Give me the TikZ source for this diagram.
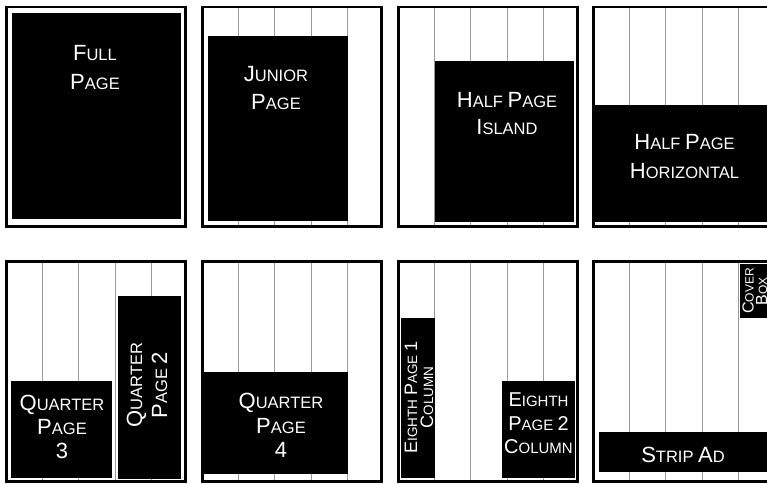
\documentclass[tikz,border=0pt]{standalone}
\usepackage{fontspec}
\setmainfont{Liberation Sans}
\newcommand\bg[1]{{\fontsize{\bgsize}{\bgsize}\selectfont #1}}
\def\bgsize{22}
\begin{document}
\begin{tikzpicture}[x=1pt,y=-1pt,
 frame/.style={draw=black,line width=2.5pt},
 colline/.style={draw=black!40,line width=1pt},
 adbox/.style={fill=black},
 lbl/.style={text=white,inner sep=0pt,anchor=base,font={\def\bgsize{22}\fontsize{16.5}{18}\selectfont}},
 lblm/.style={lbl,font={\def\bgsize{20}\fontsize{15}{16}\selectfont}},
 lbls/.style={lbl,font={\def\bgsize{18}\fontsize{13.5}{14}\selectfont}},
 lblt/.style={lbl,font={\def\bgsize{16}\fontsize{12}{13}\selectfont}}]
\useasboundingbox (0,0) rectangle (767,483);
\clip (0,0) rectangle (767,483);
% column rules
\foreach \L/\T/\B in {201/5.5/227.5,397/5.5/227.5,592/5.5/227.5,5/260/482.5,201/260/482.5,397/260/482.5,592/260/482.5}
  \foreach \k in {1,...,4}
    \draw[colline] ({\L+36.6*\k+0.5},\T+2.5) -- ({\L+36.6*\k+0.5},\B-2.5);
% ad blocks
\fill[adbox] (12,13) rectangle (181,219);
\fill[adbox] (208,36) rectangle (348,221);
\fill[adbox] (435,61) rectangle (574,222);
\fill[adbox] (595,105) rectangle (771,222);
\fill[adbox] (11,381) rectangle (112,478);
\fill[adbox] (118,296) rectangle (181,479);
\fill[adbox] (203,372) rectangle (348,474);
\fill[adbox] (401,318) rectangle (435,478);
\fill[adbox] (502,381) rectangle (575,478);
\fill[adbox] (740,264) rectangle (771,318);
\fill[adbox] (599,432) rectangle (771,472);
% frames
\foreach \L/\T/\B in {5/5.5/227.5,201/5.5/227.5,397/5.5/227.5,592/5.5/227.5,5/260/482.5,201/260/482.5,397/260/482.5,592/260/482.5}
  \draw[frame] (\L+1.25,\T+1.25) rectangle (\L+180.25,\B-1.25);
% labels
\node[lbl] (t1a) at (95,60) {\bg{F}ULL};
\node[lbl] (t1b) at (95,89) {\bg{P}AGE};
\node[lbl] (t2a) at (276,81) {\bg{J}UNIOR};
\node[lbl] (t2b) at (276,109) {\bg{P}AGE};
\node[lbl] (t3a) at (507,107) {\bg{H}ALF \bg{P}AGE};
\node[lbl] (t3b) at (507,134) {\bg{I}SLAND};
\node[lbl] (t4a) at (684.5,149) {\bg{H}ALF \bg{P}AGE};
\node[lbl] (t4b) at (684.5,178) {\bg{H}ORIZONTAL};
\node[lbl] (t5a) at (62,410) {\bg{Q}UARTER};
\node[lbl] (t5b) at (62,434) {\bg{P}AGE};
\node[lbl] (t5c) at (62,458) {\bg{3}};
\node[lbl,rotate=90] (t5d) at (142,385) {\bg{Q}UARTER};
\node[lbl,rotate=90] (t5e) at (167,385) {\bg{P}AGE \bg{2}};
\node[lbl] (t6a) at (281,408) {\bg{Q}UARTER};
\node[lbl] (t6b) at (281,433) {\bg{P}AGE};
\node[lbl] (t6c) at (281,457) {\bg{4}};
\node[lbls,rotate=90] (t7a) at (417,397.5) {\bg{E}IGHTH \bg{P}AGE \bg{1}};
\node[lbls,rotate=90] (t7b) at (433,397.5) {\bg{C}OLUMN};
\node[lblm] (t7c) at (538.5,406) {\bg{E}IGHTH};
\node[lblm] (t7d) at (538.5,430) {\bg{P}AGE \bg{2}};
\node[lblm] (t7e) at (538.5,453) {\bg{C}OLUMN};
\node[lblt,rotate=90] (t8a) at (753.5,291) {\bg{C}OVER};
\node[lblt,rotate=90] (t8b) at (767,291) {\bg{B}OX};
\node[lbl] (t8c) at (683,462) {\bg{S}TRIP \bg{A}D};
\end{tikzpicture}
\end{document}
